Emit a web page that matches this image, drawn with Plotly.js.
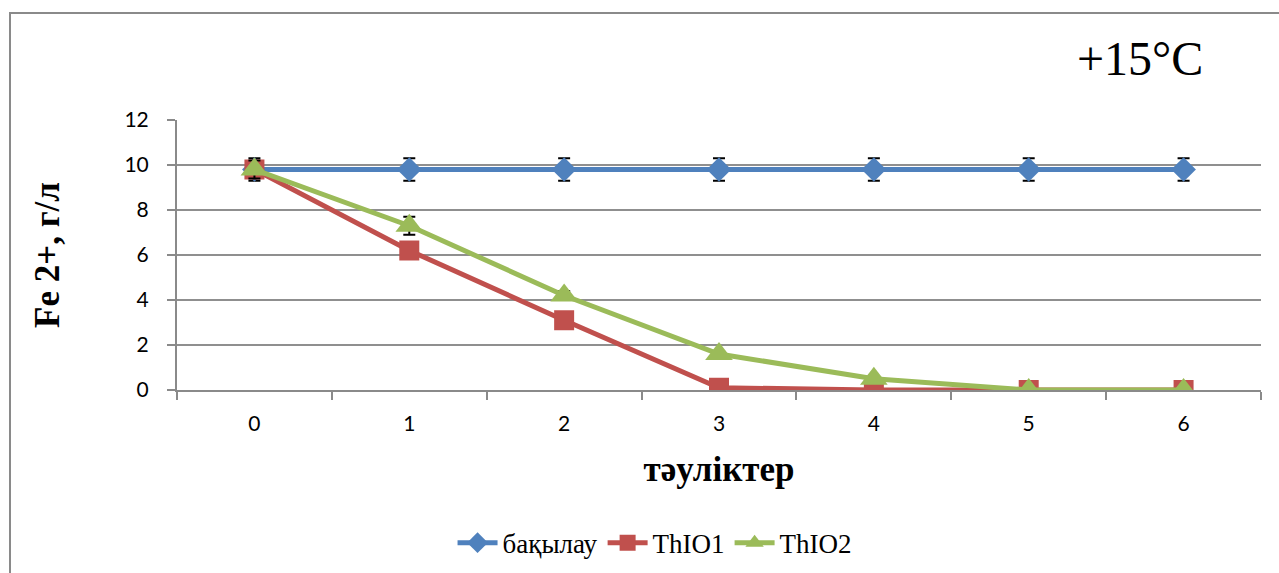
<!DOCTYPE html>
<html>
<head>
<meta charset="utf-8">
<script src="https://cdn.plot.ly/plotly-3.0.1.min.js"></script>
<style>
  html, body { margin: 0; padding: 0; width: 1279px; height: 573px; overflow: hidden; background: #fff; }
  #frame { position: absolute; left: 9px; top: 12px; width: 1400px; height: 800px; border: 2px solid #8a8a8a; box-sizing: border-box; }
  #chart { position: absolute; left: 0; top: 0; width: 1279px; height: 573px; }
</style>
</head>
<body>
<div id="frame"></div>
<div id="chart"></div>
<script>
// Data
const days = ['0', '1', '2', '3', '4', '5', '6'];
const seriesNames = ['бақылау', 'ThIO1', 'ThIO2'];
const control = [9.8, 9.8, 9.8, 9.8, 9.8, 9.8, 9.8];
const controlErr = [0.5, 0.5, 0.5, 0.5, 0.5, 0.5, 0.5];
const thio1 = [9.8, 6.2, 3.1, 0.1, 0.0, 0.0, 0.0];
const thio1Err = [0.3, 0.2, 0.2, 0.1, 0.0, 0.0, 0.0];
const thio2 = [9.8, 7.3, 4.2, 1.6, 0.5, 0.0, 0.0];
const thio2Err = [0.4, 0.4, 0.2, 0.1, 0.0, 0.0, 0.0];
const yTicks = [0, 2, 4, 6, 8, 10, 12];

const colors = ['#4F81BD', '#C0504D', '#9BBB59'];
const errStyle = (arr) => ({ type: 'data', array: arr, visible: true, color: '#000', thickness: 2, width: 6 });

const traces = [
  { x: days, y: control, name: seriesNames[0], type: 'scatter', mode: 'lines+markers',
    line: { color: colors[0], width: 5 }, marker: { symbol: 'diamond', size: 19, color: colors[0] },
    error_y: errStyle(controlErr) },
  { x: days, y: thio1, name: seriesNames[1], type: 'scatter', mode: 'lines+markers',
    line: { color: colors[1], width: 5 }, marker: { symbol: 'square', size: 20, color: colors[1] },
    error_y: errStyle(thio1Err) },
  { x: days, y: thio2, name: seriesNames[2], type: 'scatter', mode: 'lines+markers',
    line: { color: colors[2], width: 5 }, marker: { symbol: 'triangle-up', size: 24, color: colors[2] },
    error_y: errStyle(thio2Err) }
];

const layout = {
  width: 1279, height: 573,
  paper_bgcolor: 'rgba(0,0,0,0)', plot_bgcolor: 'rgba(0,0,0,0)',
  margin: { l: 176.5, r: 17.5, t: 120, b: 183, autoexpand: false },
  showlegend: true,
  legend: { orientation: 'h', x: 0.441, xanchor: 'center', y: -0.567, yanchor: 'middle',
    font: { family: 'Liberation Serif, Times New Roman, serif', size: 27, color: '#000' },
    itemwidth: 40, tracegroupgap: 0 },
  xaxis: {
    type: 'category', range: [-0.5, 6.5], tickson: 'boundaries', ticks: 'outside', ticklen: 8,
    tickcolor: '#8a8a8a', tickwidth: 2, showline: true, linecolor: '#8a8a8a', linewidth: 2,
    showgrid: false, zeroline: false,
    tickfont: { family: 'Lato, Carlito, sans-serif', size: 21, color: '#000' },
    ticklabelstandoff: 14,
    title: { text: 'тәуліктер', font: { family: 'Liberation Serif, Times New Roman, serif', size: 35, color: '#000', weight: 'bold' }, standoff: 22 },
    automargin: false, fixedrange: true
  },
  yaxis: {
    range: [0, 12], tickvals: yTicks, ticktext: yTicks.map(String), ticks: 'outside', ticklen: 8,
    tickcolor: '#8a8a8a', tickwidth: 2, showline: true, linecolor: '#8a8a8a', linewidth: 2,
    showgrid: true, gridcolor: '#8f8f8f', gridwidth: 2, zeroline: false,
    tickfont: { family: 'Lato, Carlito, sans-serif', size: 21, color: '#000' },
    ticklabelstandoff: 14,
    title: { text: 'Fe 2+, г/л', font: { family: 'Liberation Serif, Times New Roman, serif', size: 35, color: '#000', weight: 'bold' }, standoff: 54 },
    automargin: false, fixedrange: true
  },
  annotations: [
    { text: '+15°C', xref: 'paper', yref: 'paper', x: (1140 - 176.5) / 1085, y: (390 - 58) / 270,
      xanchor: 'center', yanchor: 'middle', showarrow: false,
      font: { family: 'Liberation Serif, Times New Roman, serif', size: 48, color: '#000' } }
  ]
};

Plotly.newPlot('chart', traces, layout, { displayModeBar: false, staticPlot: true });
</script>
</body>
</html>
